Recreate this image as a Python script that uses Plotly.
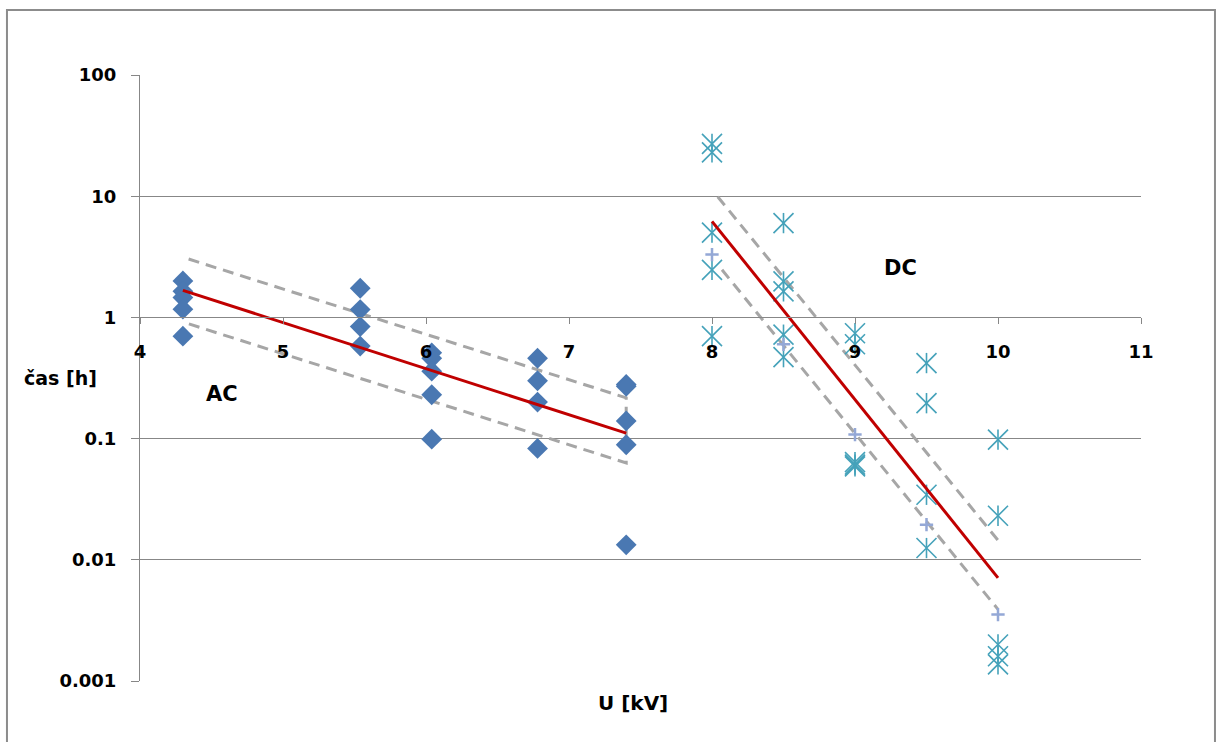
import plotly.graph_objects as go

# ---- data ----
ac_x = [4.3, 4.3, 4.3, 4.3, 4.3,
        5.54, 5.54, 5.54, 5.54,
        6.04, 6.04, 6.04, 6.04, 6.04,
        6.78, 6.78, 6.78, 6.78,
        7.4, 7.4, 7.4, 7.4, 7.4]
ac_y = [2.0, 1.64, 1.46, 1.17, 0.70,
        1.74, 1.16, 0.84, 0.58,
        0.51, 0.46, 0.36, 0.23, 0.099,
        0.46, 0.30, 0.20, 0.083,
        0.28, 0.27, 0.14, 0.089, 0.0133]

dc_x = [8, 8, 8, 8, 8,
        8.5, 8.5, 8.5, 8.5, 8.5,
        9, 9, 9, 9, 9,
        9.5, 9.5, 9.5, 9.5,
        10, 10, 10, 10, 10]
dc_y = [27, 23, 5.0, 2.47, 0.70,
        6.0, 1.98, 1.64, 0.72, 0.47,
        0.74, 0.60, 0.064, 0.061, 0.059,
        0.42, 0.196, 0.0344, 0.0125,
        0.098, 0.0231, 0.0020, 0.0016, 0.00137]

dc_mean_x = [8, 8.5, 9, 9.5, 10]
dc_mean_y = [3.3, 0.6, 0.108, 0.0195, 0.00353]

ac_fit_x = [4.3, 7.4]
ac_fit_y = [1.67, 0.111]
ac_band_x = [4.34, 7.4, 7.4, 4.34]
ac_band_y = [3.03, 0.217, 0.063, 0.885]

dc_fit_x = [8.0, 10.0]
dc_fit_y = [6.2, 0.0071]
dc_up_x = [8.04, 10.0]
dc_up_y = [9.9, 0.0145]
dc_lo_x = [8.07, 10.0]
dc_lo_y = [2.47, 0.0039]

y_ticks = [0.001, 0.01, 0.1, 1, 10, 100]
y_ticktext = ["0.001", "0.01", "0.1", "1", "10", "100"]
x_ticks = [4, 5, 6, 7, 8, 9, 10, 11]

# ---- styles ----
FONT = "DejaVu Sans"
GRID = "#878787"
BLUE = "#4A78B2"
TEAL = "#45A2BA"
LAV = "#94A8D6"
RED = "#C00000"
DASH = "#A6A6A6"

fig = go.Figure()

dash_line = dict(color=DASH, width=3, dash="11px,7px")
fig.add_trace(go.Scatter(x=ac_band_x, y=ac_band_y, mode="lines", line=dash_line, hoverinfo="skip"))
fig.add_trace(go.Scatter(x=dc_up_x, y=dc_up_y, mode="lines", line=dash_line, hoverinfo="skip"))
fig.add_trace(go.Scatter(x=dc_lo_x, y=dc_lo_y, mode="lines", line=dash_line, hoverinfo="skip"))

fig.add_trace(go.Scatter(x=ac_x, y=ac_y, mode="markers",
                         marker=dict(symbol="diamond", size=16, color=BLUE, line=dict(width=0))))

fig.add_trace(go.Scatter(x=dc_x, y=dc_y, mode="markers",
                         marker=dict(symbol="x-thin-open", size=20, color=TEAL,
                                     line=dict(width=1.6, color=TEAL))))
fig.add_trace(go.Scatter(x=dc_x, y=dc_y, mode="markers",
                         marker=dict(symbol="line-ns-open", size=14.5, color=TEAL,
                                     line=dict(width=1.6, color=TEAL))))
fig.add_trace(go.Scatter(x=dc_mean_x, y=dc_mean_y, mode="markers",
                         marker=dict(symbol="cross-thin-open", size=9.5, color=LAV,
                                     line=dict(width=2.5, color=LAV))))

fig.add_trace(go.Scatter(x=ac_fit_x, y=ac_fit_y, mode="lines", line=dict(color=RED, width=3)))
fig.add_trace(go.Scatter(x=dc_fit_x, y=dc_fit_y, mode="lines", line=dict(color=RED, width=3)))

tickfont = dict(family=FONT, size=18, color="black", weight="bold")
lblfont = dict(family=FONT, size=19, color="black", weight="bold")

fig.update_layout(
    width=1224, height=742,
    margin=dict(l=140, r=83, t=75, b=61),
    paper_bgcolor="white", plot_bgcolor="white",
    showlegend=False,
    xaxis=dict(range=[4, 11], tickvals=x_ticks, showgrid=False, zeroline=False,
               showline=True, linecolor=GRID, linewidth=1,
               ticks="outside", ticklen=6, tickcolor=GRID, tickwidth=1,
               anchor="free", position=0.6, tickfont=tickfont, ticklabelstandoff=12),
    yaxis=dict(type="log", range=[-3, 2], tickvals=y_ticks, ticktext=y_ticktext,
               showgrid=True, gridcolor=GRID, gridwidth=1, zeroline=False,
               showline=True, linecolor=GRID, linewidth=1,
               ticks="outside", ticklen=8, tickcolor=GRID, tickwidth=1,
               tickfont=tickfont, ticklabelstandoff=11),
    annotations=[
        dict(text="U [kV]", x=0.4925, y=-0.0363, xref="paper", yref="paper",
             xanchor="center", yanchor="middle",
             showarrow=False, font=dict(family=FONT, size=20, color="black", weight="bold")),
        dict(text="čas [h]", x=-0.0799, y=0.5, xref="paper", yref="paper",
             xanchor="center", yanchor="middle",
             showarrow=False, font=lblfont),
        dict(text="AC", x=4.57, y=-0.63, xref="x", yref="y",
             xanchor="center", yanchor="middle",
             showarrow=False, font=dict(family=FONT, size=21, color="black", weight="bold")),
        dict(text="DC", x=9.32, y=0.409, xref="x", yref="y",
             xanchor="center", yanchor="middle",
             showarrow=False, font=dict(family=FONT, size=21, color="black", weight="bold")),
    ],
    shapes=[
        dict(type="rect", xref="paper", yref="paper",
             x0=-0.1329, x1=1.0739, y0=-0.2, y1=1.1073,
             line=dict(color="#8C8C8C", width=2), fillcolor="rgba(0,0,0,0)", layer="below"),
    ],
)

fig.write_html("out.html")
